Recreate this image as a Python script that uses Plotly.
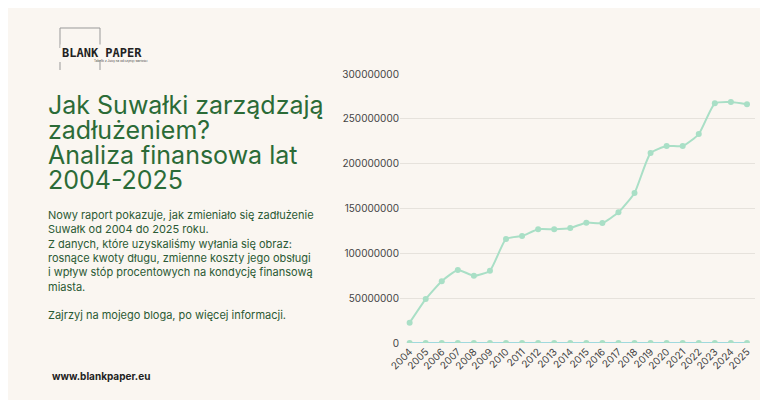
import plotly.graph_objects as go

years = [str(y) for y in range(2004, 2026)]
debt = [22.7e6, 49e6, 69e6, 81.4e6, 75e6, 80.7e6, 116e6, 119.3e6, 126.8e6, 126.8e6, 128.3e6,
        134.2e6, 133.8e6, 145.7e6, 167.3e6, 211.9e6, 219.7e6, 219.7e6, 233e6, 267.3e6, 268.8e6, 266.2e6]
zeros = [0] * len(years)
yticks = [0, 50000000, 100000000, 150000000, 200000000, 250000000, 300000000]
title_lines = ["Jak Suwałki zarządzają", "zadłużeniem?", "Analiza finansowa lat", "2004-2025"]

bg = "#faf6f1"
fig = go.Figure()
fig.add_trace(go.Scatter(x=years, y=debt, mode="lines+markers", line=dict(color="#a9dfc6", width=2, shape="spline", smoothing=0.5),
                         marker=dict(size=6, color="#a9dfc6")))
fig.add_trace(go.Scatter(x=years, y=zeros, mode="lines+markers", line=dict(color="#9fd9de", width=2),
                         marker=dict(size=6, color="#a9dfc6")))
fig.update_layout(
    width=768, height=400, paper_bgcolor=bg, plot_bgcolor=bg, showlegend=False,
    margin=dict(l=392, r=21, t=66, b=65, autoexpand=False),
    font=dict(family="Inter", color="#444"),
    xaxis=dict(tickangle=-45, tickfont=dict(size=10), showgrid=False, showline=False, ticks="",
               range=[-0.6, 21.5]),
    yaxis=dict(range=[0, 300e6], tickvals=yticks, ticktext=[str(v) for v in yticks], tickfont=dict(size=10),
               gridcolor="#e6e2dc", zeroline=False),
)
def px(x): return (x - 392) / 355
def py(y): return (335 - y) / 269
for a in [(52, 20, 52, 40), (52, 20, 92, 20), (92, 20, 92, 62), (52, 54, 52, 62)]:
    fig.add_shape(type="line", xref="paper", yref="paper", x0=px(a[0]), x1=px(a[2]), y0=py(a[1]), y1=py(a[3]),
                  line=dict(color="#999", width=1))
fig.add_annotation(xref="paper", yref="paper", x=px(52), y=py(45), xanchor="left", yanchor="middle", showarrow=False,
                   text="<b>BLANK PAPER</b>", font=dict(family="DejaVu Sans Mono", size=12, color="#222"), bgcolor=bg)
fig.add_annotation(xref="paper", yref="paper", x=px(84), y=py(53), xanchor="left", yanchor="middle", showarrow=False,
                   text="Tabelki z Juicy na od czyniyj wartości", font=dict(size=3, color="#444"))
for i, t in enumerate(title_lines):
    fig.add_annotation(xref="paper", yref="paper", x=px(38), y=py(97 + 25 * i), xanchor="left", yanchor="middle",
                       showarrow=False, text=t, font=dict(family="Inter", size=25, color="#2b6b37"))
fig.add_annotation(xref="paper", yref="paper", x=px(38), y=py(198), xanchor="left", yanchor="top", showarrow=False, align="left",
                   text="Nowy raport pokazuje, jak zmieniało się zadłużenie<br>Suwałk od 2004 do 2025 roku.<br>Z danych, które uzyskaliśmy wyłania się obraz:<br>rosnące kwoty długu, zmienne koszty jego obsługi<br>i wpływ stóp procentowych na kondycję finansową<br>miasta.<br><br>Zajrzyj na mojego bloga, po więcej informacji.",
                   font=dict(family="Inter", size=11, color="#2b5a34"))
fig.add_annotation(xref="paper", yref="paper", x=px(42), y=py(368), xanchor="left", yanchor="middle", showarrow=False,
                   text="<b>www.blankpaper.eu</b>", font=dict(family="Inter", size=10, color="#222"))
fig.write_html("out.html")
